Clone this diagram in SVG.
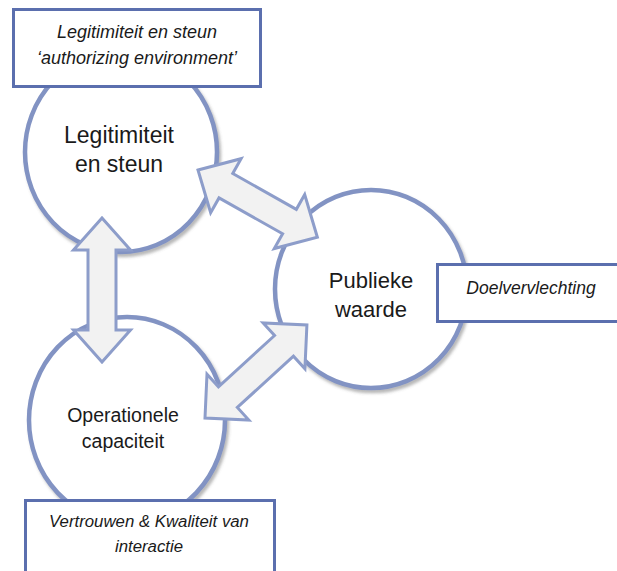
<svg xmlns="http://www.w3.org/2000/svg" width="617" height="571" viewBox="0 0 617 571">
<defs>
<filter id="sh" x="-10%" y="-10%" width="130%" height="130%">
<feDropShadow dx="2" dy="3" stdDeviation="1.8" flood-color="#606060" flood-opacity="0.45"/>
</filter>
<style>
.circ{fill:#ffffff;stroke:#8293c3;stroke-width:4.5;filter:url(#sh)}
.arr{fill:#f2f2f2;stroke:#8d9dca;stroke-width:3;stroke-linejoin:miter}
.box{fill:#ffffff;stroke:#5b6fae;stroke-width:3}
.ct{font-family:"Liberation Sans",Arial,sans-serif;fill:#1a1a1a;text-anchor:middle}
.bt{font-family:"Liberation Sans",Arial,sans-serif;font-style:italic;fill:#1a1a1a;text-anchor:middle}
</style>
</defs>
<rect width="617" height="571" fill="#ffffff"/>

<g id="node-legitimiteit">
<ellipse class="circ" cx="121" cy="152" rx="96" ry="100"/>
<text class="ct" x="119" y="143" font-size="23">Legitimiteit</text>
<text class="ct" x="119" y="172" font-size="23">en steun</text>
</g>

<g id="node-operationele">
<ellipse class="circ" cx="127" cy="420" rx="98" ry="103"/>
<text class="ct" x="123" y="422" font-size="19.5">Operationele</text>
<text class="ct" x="123" y="448" font-size="19.5">capaciteit</text>
</g>

<g id="node-publieke">
<ellipse class="circ" cx="371" cy="289" rx="96" ry="99"/>
<text class="ct" x="371" y="288" font-size="22">Publieke</text>
<text class="ct" x="371" y="317" font-size="22">waarde</text>
</g>

<g id="connectors">
<path class="arr" transform="translate(102,218) rotate(90)" d="M0,0 L32,-28.5 L32,-14 L112,-14 L112,-28.5 L144,0 L112,28.5 L112,14 L32,14 L32,28.5 Z"/>
<path class="arr" transform="translate(198,170) rotate(29.4)" d="M0,0 L32,-31 L32,-14 L105,-14 L105,-31 L137,0 L105,31 L105,14 L32,14 L32,31 Z"/>
<path class="arr" transform="translate(205,418) rotate(-42.4)" d="M0,0 L31,-31 L31,-14 L107,-14 L107,-31 L138,0 L107,31 L107,14 L31,14 L31,31 Z"/>
</g>

<g id="box-legitimiteit">
<rect class="box" x="13.5" y="9.5" width="247" height="77"/>
<text class="bt" x="137" y="38" font-size="18">Legitimiteit en steun</text>
<text class="bt" x="137" y="64" font-size="18">‘authorizing environment’</text>
</g>

<g id="box-doelvervlechting">
<rect class="box" x="437.5" y="264.5" width="190" height="57"/>
<text class="bt" x="531" y="294" font-size="17.5">Doelvervlechting</text>
</g>

<g id="box-vertrouwen">
<rect class="box" x="25.5" y="500.5" width="249" height="80"/>
<text class="bt" x="149" y="527" font-size="16.8">Vertrouwen &amp; Kwaliteit van</text>
<text class="bt" x="149" y="552" font-size="16.8">interactie</text>
</g>
</svg>
